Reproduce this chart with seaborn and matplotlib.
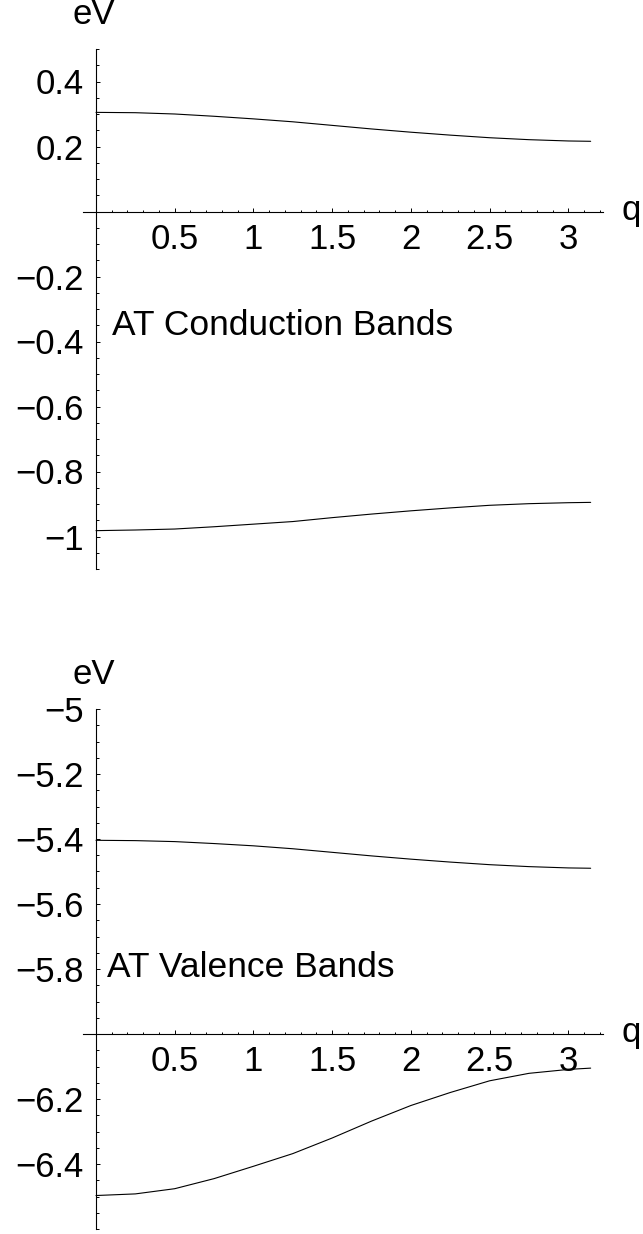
import matplotlib
matplotlib.use("Agg")
import matplotlib.pyplot as plt
import seaborn as sns
import pandas as pd
from matplotlib.ticker import MultipleLocator, FixedLocator, FuncFormatter

sns.set_style("white")
plt.rcParams['font.family'] = ['Liberation Sans', 'DejaVu Sans']
plt.rcParams['axes.unicode_minus'] = True
plt.rcParams['text.color'] = 'black'
plt.rcParams['xtick.color'] = 'black'
plt.rcParams['ytick.color'] = 'black'
plt.rcParams['xtick.labelcolor'] = 'black'
plt.rcParams['ytick.labelcolor'] = 'black'

# wave vector q (0 .. pi)
q = [0.0, 0.25, 0.5, 0.75, 1.0, 1.25, 1.5, 1.75, 2.0, 2.25, 2.5, 2.75, 3.0, 3.1416]

# AT conduction bands (eV)
cond_upper = [0.305, 0.304, 0.300, 0.293, 0.285, 0.276, 0.265, 0.254, 0.244, 0.235,
              0.227, 0.221, 0.217, 0.216]
cond_lower = [-0.982, -0.980, -0.977, -0.970, -0.962, -0.954, -0.942, -0.931, -0.921,
              -0.912, -0.904, -0.899, -0.896, -0.895]

# AT valence bands (eV)
val_upper = [-5.404, -5.405, -5.408, -5.414, -5.421, -5.430, -5.441, -5.452, -5.462,
             -5.471, -5.479, -5.485, -5.489, -5.490]
val_lower = [-6.497, -6.492, -6.476, -6.445, -6.407, -6.368, -6.320, -6.268, -6.220,
             -6.180, -6.144, -6.121, -6.109, -6.105]

cond_yticks = [-1.0, -0.8, -0.6, -0.4, -0.2, 0.2, 0.4]
val_yticks = [-6.4, -6.2, -5.8, -5.6, -5.4, -5.2, -5.0]
xticks = [0.5, 1.0, 1.5, 2.0, 2.5, 3.0]

W, H = 643, 1234
fig = plt.figure(figsize=(W / 100, H / 100), dpi=100)

fmt = FuncFormatter(lambda v, p: f"{v:g}".replace('-', '\u2212'))


def band_panel(rect, ylim, yticks, x_at, bands, label, label_xy, ev_y):
    ax = fig.add_axes(rect)
    df = pd.DataFrame({'q': q * len(bands),
                       'E': sum(bands, []),
                       'band': sum([[i] * len(q) for i in range(len(bands))], [])})
    for i in range(len(bands)):
        sns.lineplot(data=df[df.band == i], x='q', y='E', ax=ax, color='black',
                     linewidth=0.8, estimator=None, sort=False)
    ax.set_xlim(-0.0825, 3.22)
    ax.set_ylim(*ylim)
    ax.set_xlabel('')
    ax.set_ylabel('')
    for s in ['top', 'right']:
        ax.spines[s].set_visible(False)
    ax.spines['left'].set_position(('data', 0))
    ax.spines['bottom'].set_position(('data', x_at))
    for s in ['left', 'bottom']:
        ax.spines[s].set_linewidth(0.8)
        ax.spines[s].set_color('black')
    ax.xaxis.set_major_locator(FixedLocator(xticks))
    ax.xaxis.set_minor_locator(MultipleLocator(0.1))
    ax.yaxis.set_major_locator(FixedLocator(yticks))
    ax.yaxis.set_minor_locator(MultipleLocator(0.05))
    ax.xaxis.set_major_formatter(fmt)
    ax.yaxis.set_major_formatter(fmt)
    ax.tick_params(which='both', direction='in', color='black', labelcolor='black',
                   width=0.7, labelsize=25, pad=9, bottom=True, left=True)
    ax.tick_params(which='major', length=3)
    ax.tick_params(which='minor', length=1.8)
    ax.tick_params(axis='x', pad=8)
    ax.text(label_xy[0], label_xy[1], label, fontsize=25.5, va='baseline', ha='left',
            color='black')
    ax.text(-0.148, ev_y, 'eV', fontsize=25, va='baseline', ha='left', clip_on=False,
            color='black')
    ax.text(3.34, x_at - 0.025, 'q', fontsize=25, va='baseline', ha='left', clip_on=False,
            color='black')
    return ax


band_panel([83 / W, 1 - 569 / H, 520 / W, 520 / H], (-1.1, 0.5), cond_yticks, 0.0,
           [cond_upper, cond_lower], 'AT Conduction Bands', (0.1, -0.381), 0.578)
band_panel([83 / W, 1 - 1229 / H, 520 / W, 520 / H], (-6.6, -5.0), val_yticks, -6.0,
           [val_upper, val_lower], 'AT Valence Bands', (0.068, -5.824), -4.923)

fig.savefig('out.png', dpi=100)
